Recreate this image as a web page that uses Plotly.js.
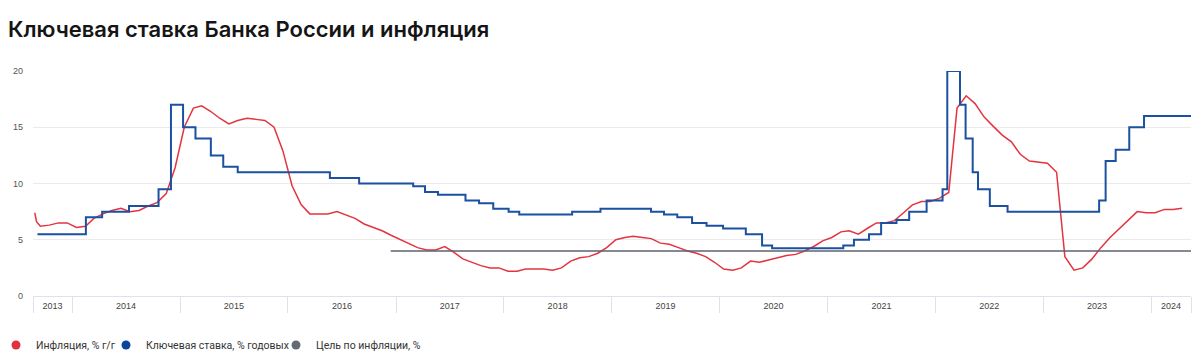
<!DOCTYPE html>
<html>
<head>
<meta charset="utf-8">
<script src="https://cdn.plot.ly/plotly-3.0.1.min.js"></script>
<style>html,body{margin:0;padding:0;background:#fff;}#chart{width:1200px;height:356px;}</style>
</head>
<body>
<div id="chart"></div>
<script>
// ---- Data ----
const inflDates = [
 '2013-08-27','2013-09-02','2013-09-15','2013-10-15','2013-11-15','2013-12-15',
 '2014-01-15','2014-02-15','2014-03-15','2014-04-15','2014-05-15','2014-06-15','2014-07-15','2014-08-15','2014-09-15','2014-10-15','2014-11-15','2014-12-15',
 '2015-01-15','2015-02-15','2015-03-15','2015-04-15','2015-05-15','2015-06-15','2015-07-15','2015-08-15','2015-09-15','2015-10-15','2015-11-15','2015-12-15',
 '2016-01-15','2016-02-15','2016-03-15','2016-04-15','2016-05-15','2016-06-15','2016-07-15','2016-08-15','2016-09-15','2016-10-15','2016-11-15','2016-12-15',
 '2017-01-15','2017-02-15','2017-03-15','2017-04-15','2017-05-15','2017-06-15','2017-07-15','2017-08-15','2017-09-15','2017-10-15','2017-11-15','2017-12-15',
 '2018-01-15','2018-02-15','2018-03-15','2018-04-15','2018-05-15','2018-06-15','2018-07-15','2018-08-15','2018-09-15','2018-10-15','2018-11-15','2018-12-15',
 '2019-01-15','2019-02-15','2019-03-15','2019-04-15','2019-05-15','2019-06-15','2019-07-15','2019-08-15','2019-09-15','2019-10-15','2019-11-15','2019-12-15',
 '2020-01-15','2020-02-15','2020-03-15','2020-04-15','2020-05-15','2020-06-15','2020-07-15','2020-08-15','2020-09-15','2020-10-15','2020-11-15','2020-12-15',
 '2021-01-15','2021-02-15','2021-03-15','2021-04-15','2021-05-15','2021-06-15','2021-07-15','2021-08-15','2021-09-15','2021-10-15','2021-11-15','2021-12-15',
 '2022-01-15','2022-02-15','2022-03-15','2022-04-15','2022-05-15','2022-06-15','2022-07-15','2022-08-15','2022-09-15','2022-10-15','2022-11-15','2022-12-15',
 '2023-01-15','2023-02-15','2023-03-15','2023-04-15','2023-05-15','2023-06-15','2023-07-15','2023-08-15','2023-09-15','2023-10-15','2023-11-15','2023-12-15',
 '2024-01-15','2024-02-15','2024-03-15','2024-04-15'
];
const inflValues = [
 7.4, 6.6, 6.2, 6.3, 6.5, 6.5,
 6.1, 6.2, 6.9, 7.3, 7.6, 7.8, 7.5, 7.6, 8.0, 8.3, 9.1, 11.4,
 15.0, 16.7, 16.9, 16.4, 15.8, 15.3, 15.6, 15.8, 15.7, 15.6, 15.0, 12.9,
 9.8, 8.1, 7.3, 7.3, 7.3, 7.5, 7.2, 6.9, 6.4, 6.1, 5.8, 5.4,
 5.0, 4.6, 4.3, 4.1, 4.1, 4.4, 3.9, 3.3, 3.0, 2.7, 2.5, 2.5,
 2.2, 2.2, 2.4, 2.4, 2.4, 2.3, 2.5, 3.1, 3.4, 3.5, 3.8, 4.3,
 5.0, 5.2, 5.3, 5.2, 5.1, 4.7, 4.6, 4.3, 4.0, 3.8, 3.5, 3.0,
 2.4, 2.3, 2.5, 3.1, 3.0, 3.2, 3.4, 3.6, 3.7, 4.0, 4.4, 4.9,
 5.2, 5.7, 5.8, 5.5, 6.0, 6.5, 6.5, 6.7, 7.4, 8.1, 8.4, 8.4,
 8.7, 9.2, 16.7, 17.8, 17.1, 15.9, 15.1, 14.3, 13.7, 12.6, 12.0, 11.9,
 11.8, 11.0, 3.5, 2.3, 2.5, 3.3, 4.3, 5.2, 6.0, 6.7, 7.5, 7.4,
 7.4, 7.7, 7.7, 7.8
];
const rateDates = ['2013-09-05','2014-02-16','2014-04-12','2014-07-12','2014-10-20','2014-12-01','2015-01-11','2015-02-22','2015-04-15','2015-05-27',
 '2015-07-15','2016-05-22','2016-08-29','2017-02-28','2017-04-09','2017-05-23','2017-08-24','2017-10-09','2017-11-26','2018-01-17',
 '2018-02-22','2018-08-20','2018-11-24','2019-05-14','2019-06-27','2019-08-11','2019-09-30','2019-11-18','2020-01-13','2020-03-30',
 '2020-05-24','2020-06-27','2021-02-23','2021-03-31','2021-05-21','2021-07-01','2021-08-22','2021-10-04','2021-12-02','2022-01-25',
 '2022-02-10','2022-03-25','2022-04-13','2022-05-07','2022-05-25','2022-07-04','2022-09-02','2023-07-09','2023-07-31','2023-09-03',
 '2023-10-19','2023-12-08','2024-05-15'];
const rateValues = [5.5,7,7.5,8,9.5,17,15,14,12.5,11.5,
 11,10.5,10,9.75,9.25,9,8.5,8.25,7.75,7.5,
 7.25,7.5,7.75,7.5,7.25,7,6.5,6.25,6,5.5,
 4.5,4.25,4.5,5,5.5,6.5,6.75,7.5,8.5,9.5,
 20,17,14,11,9.5,8,7.5,8.5,12,13,
 15,16,16];
const targetDates = ['2016-12-14','2024-05-15'];
const targetValues = [4, 4];
const years = [2013,2014,2015,2016,2017,2018,2019,2020,2021,2022,2023,2024];
const yTicks = [0,5,10,15,20];
const seriesNames = ['Инфляция, % г/г','Ключевая ставка, % годовых','Цель по инфляции, %'];
const titleText = 'Ключевая ставка Банка России и инфляция';
const xRange = ['2013-08-21','2024-05-15'];

// ---- colours ----
const RED = '#e3343f', BLUE = '#1b51a0', GRAY = '#5b626f';

// year boundary ticks and centred year labels
const t0 = Date.parse(xRange[0]), t1 = Date.parse(xRange[1]);
const boundaryTicks = [xRange[0]];
const labelVals = [], labelText = [];
years.forEach(y => {
  const a = Math.max(t0, Date.UTC(y,0,1)), b = Math.min(t1, Date.UTC(y+1,0,1));
  if (y > years[0]) boundaryTicks.push(y + '-01-01');
  labelVals.push(new Date((a+b)/2).toISOString().slice(0,10));
  labelText.push(String(y));
});
boundaryTicks.push(xRange[1]);

const data = [
  {x: inflDates, y: inflValues, type:'scatter', mode:'lines', line:{color:RED, width:1.5}, showlegend:false, name: seriesNames[0]},
  {x: rateDates, y: rateValues, type:'scatter', mode:'lines', line:{color:BLUE, width:2, shape:'hv'}, showlegend:false, name: seriesNames[1]},
  {x: targetDates, y: targetValues, type:'scatter', mode:'lines', line:{color:GRAY, width:1.5}, showlegend:false, name: seriesNames[2]},
  {x:[null], y:[null], type:'scatter', mode:'markers', marker:{color:'#e0313c', size:9}, name: seriesNames[0], legend:'legend'},
  {x:[null], y:[null], type:'scatter', mode:'markers', marker:{color:'#0b449e', size:9}, name: seriesNames[1], legend:'legend2'},
  {x:[null], y:[null], type:'scatter', mode:'markers', marker:{color:'#636a76', size:9}, name: seriesNames[2], legend:'legend3'}
];

const legFont = {family:'Roboto, sans-serif', size:10.5, color:'#333'};
const legBase = {orientation:'h', xref:'container', yref:'container', yanchor:'middle', xanchor:'left', y: 1-345/356, font:legFont, bgcolor:'rgba(0,0,0,0)', itemclick:false};

const layout = {
  width:1200, height:356,
  margin:{l:33, r:9, t:71, b:60},
  paper_bgcolor:'#fff', plot_bgcolor:'#fff',
  title:{text:titleText, x:8/1200, xref:'container', xanchor:'left', y:1-29/356, yref:'container', yanchor:'middle',
         font:{family:'Inter, Roboto, sans-serif', size:22, color:'#151515', weight:600}},
  xaxis:{type:'date', range:xRange, tickmode:'array', tickvals:boundaryTicks, showticklabels:false,
         ticks:'outside', ticklen:16, tickcolor:'#dce3ee', tickwidth:1,
         showline:true, linecolor:'#dce3ee', linewidth:1, showgrid:false, zeroline:false, fixedrange:true},
  xaxis2:{type:'date', range:xRange, overlaying:'x', anchor:'y', side:'bottom', tickmode:'array',
          tickvals:labelVals, ticktext:labelText, ticks:'', showline:false, showgrid:false, zeroline:false,
          tickfont:{family:'Liberation Sans, Arial, sans-serif', size:9, color:'#444'}, ticklabelstandoff:3, fixedrange:true},
  yaxis:{range:[0,20], tickmode:'array', tickvals:yTicks, showgrid:true, gridcolor:'#ebebeb', gridwidth:1,
         zeroline:false, showline:false, ticks:'', ticklabelstandoff:9,
         tickfont:{family:'Liberation Sans, Arial, sans-serif', size:9, color:'#555'}, fixedrange:true},
  legend: Object.assign({}, legBase, {x:0, indentation:-4}),
  legend2: Object.assign({}, legBase, {x:106/1200}),
  legend3: Object.assign({}, legBase, {x:276/1200}),
  hovermode:false
};
// empty trace on xaxis2 so that the year-label axis is drawn
data.push({x: xRange, y:[null,null], xaxis:'x2', yaxis:'y', type:'scatter', mode:'lines', showlegend:false, hoverinfo:'skip'});

Plotly.newPlot('chart', data, layout, {displayModeBar:false, staticPlot:true});
</script>
</body>
</html>
